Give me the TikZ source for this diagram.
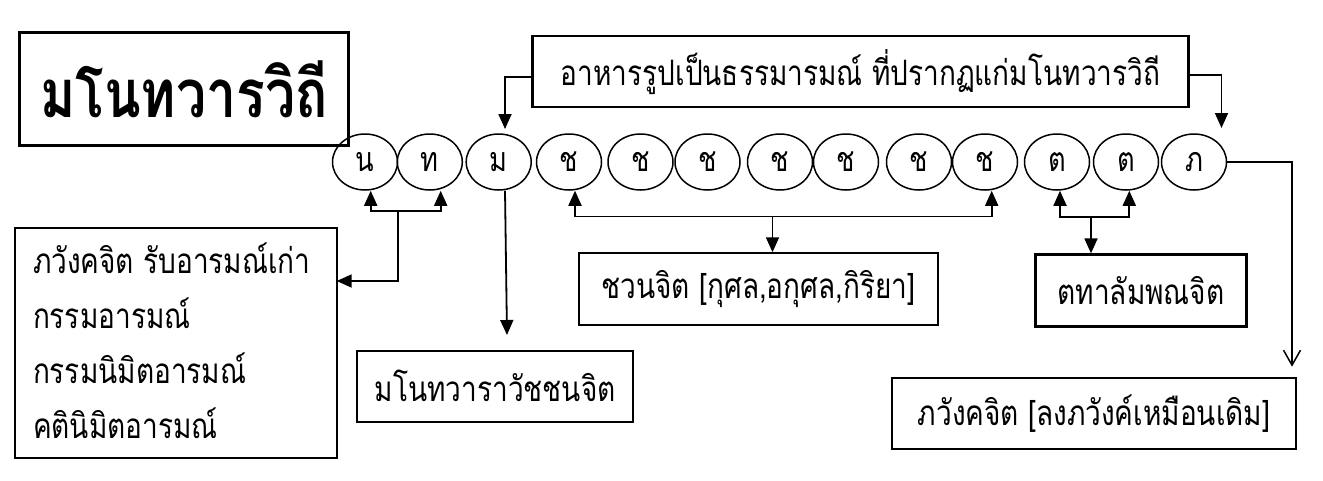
\documentclass[tikz,border=0pt]{standalone}
\usepackage{fontspec}
\setmainfont{Loma}[Script=Thai,FakeStretch=0.8]
\usetikzlibrary{arrows.meta,shapes.geometric}
\tikzset{
  box/.style={draw,line width=2.2pt,rectangle,inner sep=0pt,font=\fontsize{35}{42}\selectfont},
  stage/.style={draw,line width=1.5pt,ellipse,minimum width=65pt,minimum height=56pt,inner sep=0pt,font=\fontsize{34}{40}\selectfont},
  conn/.style={line width=1.8pt},
  arr/.style={conn,-{Triangle[length=15pt,width=13pt]}},
  openarr/.style={conn,-{Straight Barb[length=15pt,width=17pt,line width=1.5pt]}}
}
\begin{document}
\begin{tikzpicture}[x=1pt,y=-1pt]
\useasboundingbox (0,0) rectangle (1323,480);
% title
\node[box,minimum width=329pt,minimum height=113pt,font=\fontsize{67}{72}\selectfont\bfseries] (title) at (184,89) {มโนทวารวิถี};
% top box
\node[box,minimum width=656pt,minimum height=71pt] (topbox) at (860.5,71.7) {อาหารรูปเป็นธรรมารมณ์ ที่ปรากฏแก่มโนทวารวิถี};
% stages
\foreach \n/\x/\t in {na/365/น,tha/429.8/ท,ma/498.7/ม,c1/569/ช,c2/640.5/ช,c3/707.5/ช,c4/780/ช,c5/846/ช,c6/919/ช,c7/985/ช,t1/1057/ต,t2/1126/ต,bha/1194/ภ}
  \node[stage] (\n) at (\x,162) {\t};
% lower boxes
\node[box,minimum width=322pt,minimum height=230pt] (oldbox) at (175.7,342.7) {};
\node[anchor=base west,align=left,inner sep=0pt,font=\fontsize{35}{55}\selectfont] (oldtxt) at (32.8,438) {ภวังคจิต รับอารมณ์เก่า\\กรรมอารมณ์\\กรรมนิมิตอารมณ์\\คตินิมิตอารมณ์};
\node[box,minimum width=276pt,minimum height=71pt] (mano) at (495.2,386.3) {มโนทวาราวัชชนจิต};
\node[box,minimum width=359.5pt,minimum height=71.7pt] (javana) at (758.5,289.2) {ชวนจิต [กุศล,อกุศล,กิริยา]};
\node[box,minimum width=211pt,minimum height=72pt] (tadar) at (1141,290.5) {ตทาลัมพณจิต};
\node[box,minimum width=404.7pt,minimum height=71.6pt] (bhav) at (1094,413.5) {ภวังคจิต [ลงภวังค์เหมือนเดิม]};
% coordinates
\coordinate (main) at (505,129);
\coordinate (bhain) at (1221.5,128);
\coordinate (ntj) at (398,210.7);
\coordinate (oldin) at (336.7,281);
\coordinate (manoin) at (507,335);
\coordinate (chj) at (772.5,216.5);
\coordinate (tj) at (1091,216.7);
\coordinate (bhout) at (1292,366.7);
% connectors
\draw[arr] ([yshift=-5pt]topbox.west) -| (main);
\draw[arr] ([yshift=-3pt]topbox.east) -| (bhain);
\draw[arr] (ntj) -| ([xshift=5.7pt]na.south);
\draw[arr] (ntj) -| ([xshift=10.9pt]tha.south);
\draw[arr] (ntj) |- (oldin);
\draw[arr] ([xshift=6.3pt]ma.south) -- (manoin);
\draw[arr] (chj) -| ([xshift=6pt]c1.south);
\draw[arr] (chj) -| ([xshift=6.7pt]c7.south);
\draw[arr] (chj) -- (chj |- javana.north);
\draw[arr] (tj) -| ([xshift=3pt]t1.south);
\draw[arr] (tj) -| ([xshift=3.3pt]t2.south);
\draw[arr] (tj) -- (tj |- tadar.north);
\draw[openarr] (bha.east) -| (bhout);
\end{tikzpicture}
\end{document}
